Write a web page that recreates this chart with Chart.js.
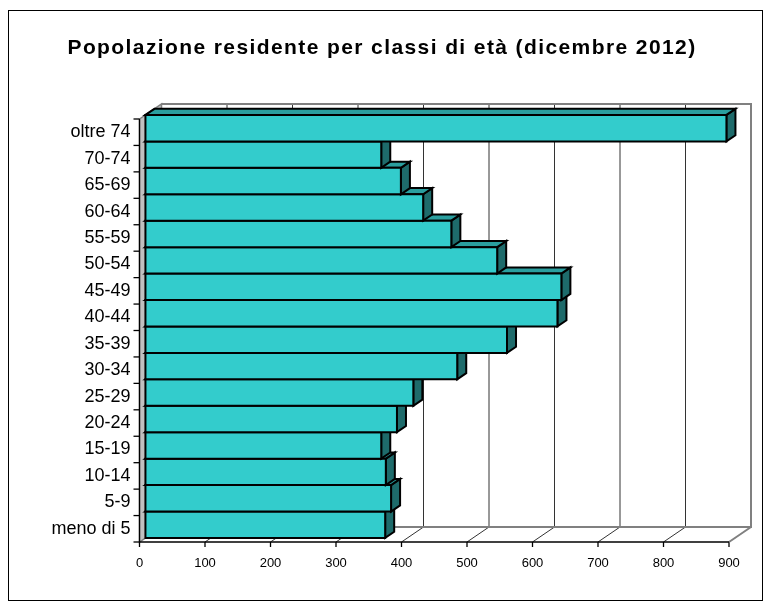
<!DOCTYPE html>
<html>
<head>
<meta charset="utf-8">
<script src="https://cdn.jsdelivr.net/npm/chart.js@4.4.1/dist/chart.umd.min.js"></script>
<style>
  html, body { margin: 0; padding: 0; background: #fff; }
  canvas { display: block; }
</style>
</head>
<body>
<canvas id="chart" width="771" height="610"></canvas>
<script>
// data, top to bottom as in the picture
const ageClasses = ['oltre 74', '70-74', '65-69', '60-64', '55-59', '50-54', '45-49', '40-44',
  '35-39', '30-34', '25-29', '20-24', '15-19', '10-14', '5-9', 'meno di 5'];
const residents = [887, 360, 390, 424, 467, 537, 635, 629, 552, 476, 409, 384, 360, 367, 375, 366];
const xTicks = [0, 100, 200, 300, 400, 500, 600, 700, 800, 900];
const chartTitle = 'Popolazione residente per classi di età (dicembre 2012)';

// 3d look: depth vector of the walls and where the bars sit in it
const DX = 22, DY = -15;
const BAR_FRONT = 0.27, BAR_BACK = 0.68;
const FONT = "'Liberation Sans', Arial, sans-serif";

function poly(ctx, pts) {
  ctx.beginPath();
  ctx.moveTo(pts[0][0], pts[0][1]);
  for (let i = 1; i < pts.length; i++) ctx.lineTo(pts[i][0], pts[i][1]);
  ctx.closePath();
}

function line(ctx, x1, y1, x2, y2, color, width) {
  ctx.beginPath();
  ctx.moveTo(x1, y1);
  ctx.lineTo(x2, y2);
  ctx.strokeStyle = color;
  ctx.lineWidth = width;
  ctx.stroke();
}

const frame3d = {
  id: 'frame3d',
  beforeDraw(chart) {
    const { ctx, width, height } = chart;
    ctx.save();
    ctx.fillStyle = '#fff';
    ctx.fillRect(0, 0, width, height);
    ctx.strokeStyle = '#000';
    ctx.lineWidth = 1;
    ctx.strokeRect(8.5, 10.5, 754, 590);
    ctx.restore();
  },
  beforeDatasetsDraw(chart) {
    const { ctx, chartArea: a, scales: { x } } = chart;
    ctx.save();
    // left wall
    poly(ctx, [[a.left, a.top], [a.left + DX, a.top + DY], [a.left + DX, a.bottom + DY], [a.left, a.bottom]]);
    ctx.fillStyle = '#c0c0c0';
    ctx.fill();
    ctx.strokeStyle = '#808080';
    ctx.lineWidth = 1.5;
    ctx.stroke();

    // gridlines on back wall and floor
    xTicks.forEach((v) => {
      const px = x.getPixelForValue(v);
      if (v > 0 && v < 900) {
        line(ctx, px + DX, a.top + DY, px + DX, a.bottom + DY, '#333', 1);
        line(ctx, px, a.bottom, px + DX, a.bottom + DY, '#333', 1);
      }
      line(ctx, px, a.bottom, px, a.bottom + 5, '#000', 1.3);
    });

    // back wall border + floor edges
    const r = x.getPixelForValue(900);
    ctx.beginPath();
    ctx.moveTo(a.left + DX, a.top + DY);
    ctx.lineTo(r + DX, a.top + DY);
    ctx.lineTo(r + DX, a.bottom + DY);
    ctx.lineTo(a.left + DX, a.bottom + DY);
    ctx.moveTo(r + DX, a.bottom + DY);
    ctx.lineTo(r, a.bottom);
    ctx.strokeStyle = '#808080';
    ctx.lineWidth = 2;
    ctx.stroke();

    // front axes
    line(ctx, a.left, a.bottom, r, a.bottom, '#000', 1.3);
    line(ctx, a.left, a.top, a.left, a.bottom, '#000', 1.3);
    const step = (a.bottom - a.top) / ageClasses.length;
    for (let i = 0; i <= ageClasses.length; i++) {
      const ty = a.top + i * step;
      line(ctx, a.left - 6, ty, a.left, ty, '#000', 1.3);
    }
    ctx.restore();
  },
  afterDatasetsDraw(chart) {
    const { ctx } = chart;
    const meta = chart.getDatasetMeta(0);
    const fx = BAR_FRONT * DX, fy = BAR_FRONT * DY;
    const sx = (BAR_BACK - BAR_FRONT) * DX, sy = (BAR_BACK - BAR_FRONT) * DY;
    ctx.save();
    ctx.lineJoin = 'miter';
    ctx.strokeStyle = '#000';
    ctx.lineWidth = 2;
    // paint from the bottom bar upwards so upper fronts hide lower tops
    for (let i = meta.data.length - 1; i >= 0; i--) {
      const el = meta.data[i];
      const p = el.getProps(['x', 'y', 'base', 'height'], true);
      const x0 = p.base + fx, x1 = p.x + fx;
      const y0 = p.y - p.height / 2 + fy, y1 = p.y + p.height / 2 + fy;

      poly(ctx, [[x1, y0], [x1 + sx, y0 + sy], [x1 + sx, y1 + sy], [x1, y1]]);
      ctx.fillStyle = '#1e6b6b';
      ctx.fill();
      ctx.stroke();

      poly(ctx, [[x0, y0], [x0 + sx, y0 + sy], [x1 + sx, y0 + sy], [x1, y0]]);
      ctx.fillStyle = '#2a9f9f';
      ctx.fill();
      ctx.stroke();

      poly(ctx, [[x0, y0], [x1, y0], [x1, y1], [x0, y1]]);
      ctx.fillStyle = '#33cccc';
      ctx.fill();
      ctx.stroke();
    }
    ctx.restore();
  },
  afterDraw(chart) {
    // title is written here so it can get the loose spacing of the original
    const { ctx } = chart;
    ctx.save();
    ctx.font = `bold 21px ${FONT}`;
    ctx.letterSpacing = '1.4px';
    ctx.fillStyle = '#000';
    ctx.textAlign = 'center';
    ctx.textBaseline = 'middle';
    ctx.fillText(chartTitle, 382, 48);
    ctx.restore();
  }
};

new Chart(document.getElementById('chart'), {
  type: 'bar',
  data: {
    labels: ageClasses,
    datasets: [{
      label: 'Residenti',
      data: residents,
      backgroundColor: 'rgba(0,0,0,0)',
      borderWidth: 0,
      barPercentage: 1,
      categoryPercentage: 1
    }]
  },
  options: {
    indexAxis: 'y',
    responsive: false,
    animation: false,
    devicePixelRatio: 1,
    layout: { padding: { left: 33, right: 42, top: 119, bottom: 0 } },
    plugins: {
      legend: { display: false },
      tooltip: { enabled: false },
      title: { display: false }
    },
    scales: {
      x: {
        type: 'linear',
        min: 0,
        max: 900,
        afterBuildTicks: (scale) => { scale.ticks = xTicks.map((v) => ({ value: v })); },
        afterFit: (scale) => { scale.height = 68; },
        grid: { display: false, drawTicks: false },
        border: { display: false },
        ticks: {
          color: '#000',
          padding: 14,
          maxRotation: 0,
          font: { family: FONT, size: 13 }
        }
      },
      y: {
        afterFit: (scale) => { scale.width = 106.5; },
        grid: { display: false, drawTicks: false },
        border: { display: false },
        ticks: {
          color: '#000',
          padding: 9,
          autoSkip: false,
          font: { family: FONT, size: 18 }
        }
      }
    }
  },
  plugins: [frame3d]
});
</script>
</body>
</html>
